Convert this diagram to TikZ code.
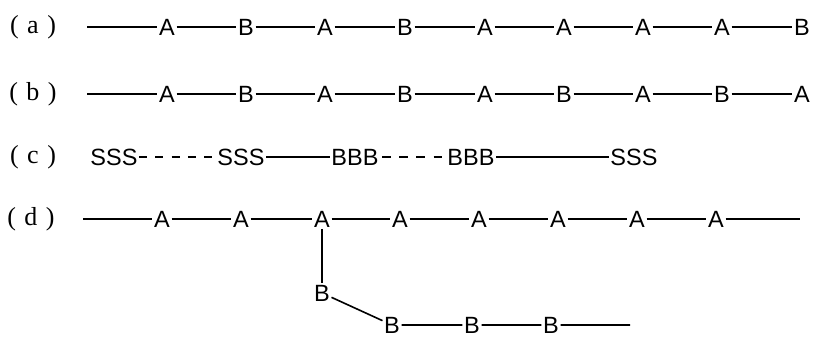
\documentclass[tikz,border=0pt]{standalone}
\usepackage{fontspec}
\setmainfont{Liberation Sans}
\newfontfamily\glyphfont{Liberation Sans}
\newfontfamily\lblfont{Liberation Serif}
\newcommand{\lbltext}[1]{(\hspace{8.5pt}#1\hspace{8.5pt})}
\begin{document}
\begin{tikzpicture}[x=1pt,y=-1pt,
  mono/.style={inner sep=1.5pt,font=\glyphfont\fontsize{23.5}{25}\selectfont},
  lbl/.style={inner sep=0pt,font=\lblfont\fontsize{26}{28}\selectfont},
  bond/.style={line width=1.6pt},
  dbond/.style={line width=1.6pt,dash pattern=on 8pt off 8.2pt}]
\useasboundingbox (0,0) rectangle (815,338);
% labels
\node[lbl] (la) at (33,27) {\lbltext{a}};
\node[lbl] (lb) at (33,94) {\lbltext{b}};
\node[lbl] (lc) at (33,157) {\lbltext{c}};
\node[lbl] (ld) at (31,219) {\lbltext{d}};
% row a
\coordinate (a0) at (87,27);
\foreach \i/\x/\t in {1/167/A,2/246/B,3/325/A,4/405/B,5/485/A,6/564/A,7/643/A,8/722/A,9/802/B}
  \node[mono] (a\i) at (\x,27) {\t};
\draw[bond] (a0) -- (a1) -- (a2) -- (a3) -- (a4) -- (a5) -- (a6) -- (a7) -- (a8) -- (a9);
% row b
\coordinate (b0) at (87,94);
\foreach \i/\x/\t in {1/167/A,2/246/B,3/325/A,4/405/B,5/485/A,6/564/B,7/643/A,8/722/B,9/802/A}
  \node[mono] (b\i) at (\x,94) {\t};
\draw[bond] (b0) -- (b1) -- (b2) -- (b3) -- (b4) -- (b5) -- (b6) -- (b7) -- (b8) -- (b9);
% row c
\node[mono] (c1) at (114,157) {SSS};
\node[mono] (c2) at (241,157) {SSS};
\node[mono] (c3) at (355,157) {BBB};
\node[mono] (c4) at (471,157) {BBB};
\node[mono] (c5) at (634,157) {SSS};
\draw[dbond,shorten >=2pt] (c1) -- (c2);
\draw[bond] (c2) -- (c3);
\draw[dbond,dash pattern=on 8.5pt off 8.6pt,shorten <=2pt,shorten >=2pt] (c3) -- (c4);
\draw[bond] (c4) -- (c5);
% row d
\coordinate (d0) at (83,219);
\coordinate (d9) at (800,219);
\foreach \i/\x in {1/162,2/241,3/322,4/400,5/479,6/558,7/637,8/716}
  \node[mono] (d\i) at (\x,219) {A};
\draw[bond] (d0) -- (d1) -- (d2) -- (d3) -- (d4) -- (d5) -- (d6) -- (d7) -- (d8) -- (d9);
% branch
\node[mono] (e1) at (322,293) {B};
\node[mono] (e2) at (392,325) {B};
\node[mono] (e3) at (472,325) {B};
\node[mono] (e4) at (551,325) {B};
\coordinate (e5) at (630,325);
\draw[bond] (d3) -- (e1);
\draw[bond] (e1) -- (e2) -- (e3) -- (e4) -- (e5);
\end{tikzpicture}
\end{document}
